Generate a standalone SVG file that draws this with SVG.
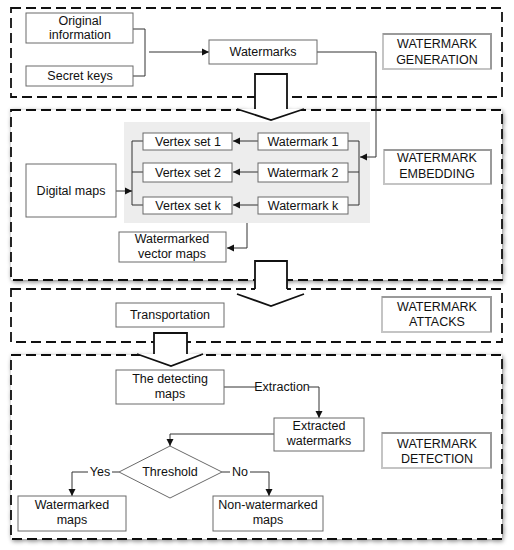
<svg xmlns="http://www.w3.org/2000/svg" width="514" height="550" viewBox="0 0 514 550">
<style>
text{font-family:"Liberation Sans",Arial,sans-serif;font-size:12.5px;fill:#111;text-anchor:middle}
.box{fill:#fff;stroke:#6a6a6a;stroke-width:1}
.frame{fill:#fff;stroke:#111;stroke-width:1.8;stroke-dasharray:10 5}
.lbl{fill:#fff;stroke:#c4c4c4;stroke-width:2}
.lbledge{stroke:#9a9a9a;stroke-width:2;fill:none}
.conn{fill:none;stroke:#333;stroke-width:1}
.big{fill:#fff;stroke:none}
.bigline{fill:none;stroke:#111;stroke-width:1.8;stroke-linejoin:miter}
</style>
<defs>
<marker id="ah" markerWidth="8" markerHeight="8" refX="7" refY="4" orient="auto" markerUnits="userSpaceOnUse">
<path d="M0,0.5 L7,4 L0,7.5 Z" fill="#111"/>
</marker>
<filter id="sh" x="-5%" y="-5%" width="110%" height="115%">
<feDropShadow dx="1" dy="1.5" stdDeviation="2.2" flood-color="#000" flood-opacity="0.45"/>
</filter>
</defs>
<rect width="514" height="550" fill="#fff"/>

<g id="frames">
<rect class="frame" x="11" y="8" width="491" height="89"/>
<rect class="frame" x="11" y="110" width="491" height="170" filter="url(#sh)"/>
<rect class="frame" x="11" y="289" width="491" height="53"/>
<rect class="frame" x="11" y="355" width="491" height="184" filter="url(#sh)"/>
</g>

<g id="panel"><rect x="124" y="122" width="246" height="101" fill="#ededed"/></g>

<g id="bigarrows">
<polygon class="big" points="255,74 287,74 287,109 304,109 271,120 237,109 255,109"/>
<polyline class="bigline" points="255,109 255,74 287,74 287,109"/>
<polyline class="bigline" points="237,109 271,120 304,109"/>
<polygon class="big" points="255,261 287,261 287,294 304,294 271,306 237,294 255,294"/>
<polyline class="bigline" points="255,289 255,261 287,261 287,289"/>
<polyline class="bigline" points="237,294 271,306 304,294"/>
<polygon class="big" points="154,333 187,333 187,354 203,354 171,366 137,354 154,354"/>
<polyline class="bigline" points="154,354 154,333 187,333 187,354"/>
<polyline class="bigline" points="137,354 171,366 203,354"/>
</g>

<g id="connectors">
<polyline class="conn" points="133,29 145,29 145,76 133,76"/>
<line class="conn" x1="149" y1="52" x2="209" y2="52" marker-end="url(#ah)"/>
<polyline class="conn" points="317,52 376,52 376,157 360,157" marker-end="url(#ah)"/>
<polyline class="conn" points="348,141 359,141 359,205 348,205"/>
<line class="conn" x1="348" y1="172" x2="359" y2="172"/>
<line class="conn" x1="258" y1="141" x2="233" y2="141" marker-end="url(#ah)"/>
<line class="conn" x1="258" y1="172" x2="233" y2="172" marker-end="url(#ah)"/>
<line class="conn" x1="258" y1="205" x2="233" y2="205" marker-end="url(#ah)"/>
<polyline class="conn" points="143,141 132,141 132,205 143,205"/>
<line class="conn" x1="132" y1="172" x2="143" y2="172"/>
<line class="conn" x1="116" y1="191" x2="132" y2="191" marker-end="url(#ah)"/>
<polyline class="conn" points="247,223 247,248 227,248" marker-end="url(#ah)"/>
<polyline class="conn" points="224,387 256,387"/>
<polyline class="conn" points="309,387 319,387 319,418" marker-end="url(#ah)"/>
<polyline class="conn" points="274,434 170,434 170,446" marker-end="url(#ah)"/>
<polyline class="conn" points="119,472 112,472"/>
<polyline class="conn" points="88,472 72,472 72,496" marker-end="url(#ah)"/>
<polyline class="conn" points="222,472 230,472"/>
<polyline class="conn" points="250,472 269,472 269,496" marker-end="url(#ah)"/>
<text x="282" y="391">Extraction</text>
<text x="100" y="476">Yes</text>
<text x="240" y="476">No</text>
</g>

<g id="n-original"><rect class="box" x="26" y="13" width="107" height="30"/><text x="80" y="25">Original</text><text x="80" y="39">information</text></g>
<g id="n-secret"><rect class="box" x="26" y="66" width="107" height="20"/><text x="80" y="80">Secret keys</text></g>
<g id="n-watermarks"><rect class="box" x="209" y="40" width="108" height="24"/><text x="263" y="56">Watermarks</text></g>
<g id="n-gen"><rect class="lbl" x="383" y="34" width="108" height="35"/><polyline class="lbledge" points="383,34 491,34 491,69"/><text x="437" y="48">WATERMARK</text><text x="437" y="64">GENERATION</text></g>

<g id="n-vs1"><rect class="box" x="143" y="133" width="89" height="17"/><text x="188" y="146">Vertex set 1</text></g>
<g id="n-vs2"><rect class="box" x="143" y="163" width="89" height="19"/><text x="188" y="177">Vertex set 2</text></g>
<g id="n-vsk"><rect class="box" x="143" y="197" width="89" height="17"/><text x="188" y="210">Vertex set k</text></g>
<g id="n-wm1"><rect class="box" x="258" y="133" width="90" height="17"/><text x="303" y="146">Watermark 1</text></g>
<g id="n-wm2"><rect class="box" x="258" y="163" width="90" height="19"/><text x="303" y="177">Watermark 2</text></g>
<g id="n-wmk"><rect class="box" x="258" y="197" width="90" height="17"/><text x="303" y="210">Watermark k</text></g>
<g id="n-digital"><rect class="box" x="26" y="164" width="90" height="53"/><text x="71" y="195">Digital maps</text></g>
<g id="n-wvm"><rect class="box" x="119" y="232" width="107" height="30"/><text x="172" y="243">Watermarked</text><text x="172" y="258">vector maps</text></g>
<g id="n-emb"><rect class="lbl" x="384" y="150" width="107" height="34"/><polyline class="lbledge" points="384,150 491,150 491,184"/><text x="437" y="162">WATERMARK</text><text x="437" y="178">EMBEDDING</text></g>

<g id="n-transport"><rect class="box" x="116" y="303" width="108" height="24"/><text x="170" y="319">Transportation</text></g>
<g id="n-att"><rect class="lbl" x="382" y="297" width="109" height="35"/><polyline class="lbledge" points="382,297 491,297 491,332"/><text x="437" y="311">WATERMARK</text><text x="437" y="326">ATTACKS</text></g>

<g id="n-detecting"><rect class="box" x="116" y="370" width="108" height="34"/><text x="170" y="383">The detecting</text><text x="170" y="398">maps</text></g>
<g id="n-extracted"><rect class="box" x="274" y="418" width="90" height="33"/><text x="319" y="430">Extracted</text><text x="319" y="445">watermarks</text></g>
<g id="n-threshold"><polygon class="box" points="170,446 222,472 170,498 119,472"/><text x="170" y="476">Threshold</text></g>
<g id="n-wmaps"><rect class="box" x="18" y="496" width="108" height="35"/><text x="72" y="509">Watermarked</text><text x="72" y="524">maps</text></g>
<g id="n-nonwm"><rect class="box" x="213" y="496" width="110" height="35"/><text x="268" y="509">Non-watermarked</text><text x="268" y="524">maps</text></g>
<g id="n-det"><rect class="lbl" x="382" y="433" width="109" height="35"/><polyline class="lbledge" points="382,433 491,433 491,468"/><text x="437" y="448">WATERMARK</text><text x="437" y="463">DETECTION</text></g>
</svg>
